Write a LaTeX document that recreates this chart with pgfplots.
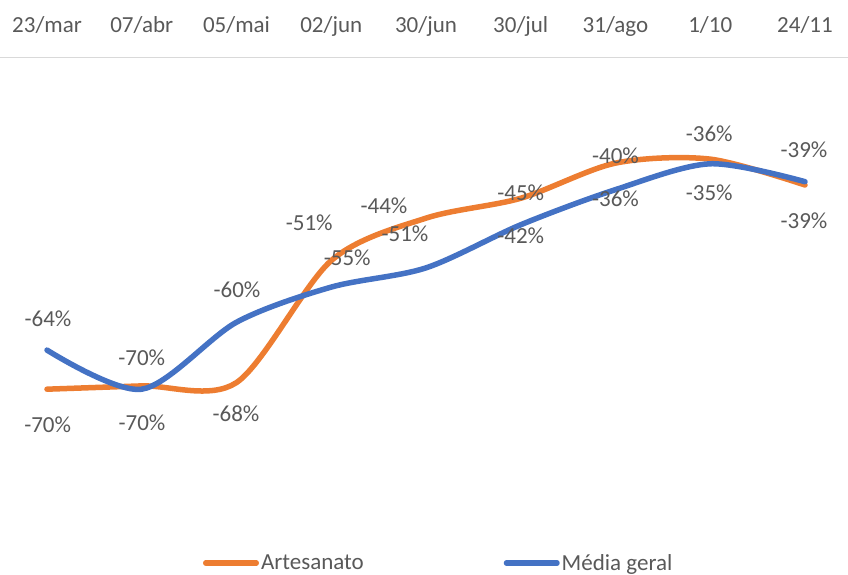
\documentclass[border=0pt]{standalone}
\usepackage{fontspec}
\setmainfont{Carlito}
\usepackage{pgfplots}
\usepackage{pgfplotstable}
\pgfplotsset{compat=1.18}
\definecolor{cOr}{HTML}{ED7D31}
\definecolor{cBl}{HTML}{4472C4}
\definecolor{cTx}{HTML}{595959}
\definecolor{cAx}{HTML}{D9D9D9}
\newcommand{\ff}{\fontsize{23}{27}\selectfont}

\pgfplotstableread{
x y dx dy lab
0 -70.0 0.7 -36 -70
1 -69.5 0.25 -37 -70
2 -69.0 -0.5 -31 -68
3 -50.6 -22 38 -51
4 -44.2 -42 12 -44
5 -41.2 0 -37 -42
6 -35.9 0 -36 -36
7 -35.3 -1 -34 -35
8 -39.2 -1 -36 -39
}\orangetab

\pgfplotstableread{
x y dx dy lab
0 -64.1 1 31 -64
1 -70.0 0 31 -70
2 -59.9 0.5 32 -60
3 -54.6 16 29 -55
4 -51.7 -21 34 -51
5 -45.2 0 32 -45
6 -39.9 0 34 -40
7 -36.0 -1 30 -36
8 -38.7 -1 32 -39
}\bluetab

\pgfplotsset{lbl/.style={
  nodes near coords={\pgfplotspointmeta\%},
  point meta=explicit symbolic,
  visualization depends on={\thisrow{dx} \as \dx},
  visualization depends on={\thisrow{dy} \as \dy},
  every node near coord/.append style={anchor=center, xshift=\dx*1pt, yshift=\dy*1pt, font=\ff, text=cTx},
}}

\begin{document}
\begin{tikzpicture}
\begin{axis}[
  at={(0pt,53.2pt)}, anchor=south west,
  scale only axis, width=848pt, height=464.1pt,
  xmin=-0.496, xmax=8.454, ymin=-90, ymax=-20,
  clip=false,
  axis x line*=top, axis y line=none,
  x axis line style={cAx, line width=1.5pt},
  xtick={0,...,8},
  xticklabels={23/mar,07/abr,05/mai,02/jun,30/jun,30/jul,31/ago,1/10,24/11},
  ytick=\empty,
  major tick length=0pt,
  xticklabel style={anchor=base, yshift=25pt, text=cTx, font=\ff},
  legend style={at={(axis description cs:0.2394,-0.0888)}, anchor=west,
    draw=none, fill=none, legend columns=2, inner sep=0pt, outer sep=0pt,
    font=\ff, text=cTx, nodes={inner sep=2pt},
    /tikz/every even column/.append style={column sep=138pt}},
  legend image code/.code={\draw[#1, line width=5.5pt, line cap=round] (2.75pt,0pt) -- (53.25pt,0pt);},
]
\addplot[cOr, line width=5.5pt, line cap=round, smooth, tension=0.5, mark=none, lbl] table[x=x, y=y, meta=lab] {\orangetab};
\addlegendentry{Artesanato}
\addplot[cBl, line width=5.5pt, line cap=round, smooth, tension=0.5, mark=none, lbl] table[x=x, y=y, meta=lab] {\bluetab};
\addlegendentry{Média geral}
\end{axis}
\pgfresetboundingbox
\path[use as bounding box] (0,0) rectangle (848pt,575pt);
\end{tikzpicture}
\end{document}
